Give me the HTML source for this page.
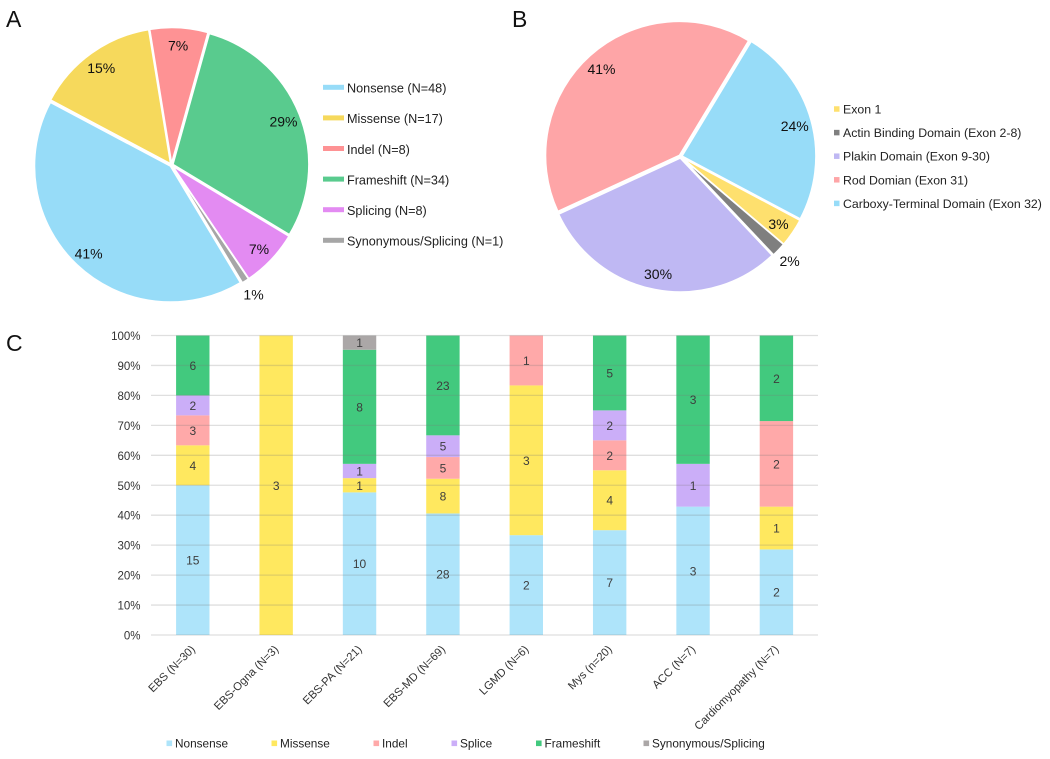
<!DOCTYPE html>
<html lang="en">
<head>
<meta charset="utf-8">
<title>Mutation distribution charts</title>
<style>
html,body{margin:0;padding:0;background:#fff;}
svg{display:block;font-family:"Liberation Sans",sans-serif;}
</style>
</head>
<body>
<svg id="fig" xmlns="http://www.w3.org/2000/svg" width="1050" height="759" viewBox="0 0 1050 759">
  <text x="6" y="27" font-size="23" fill="#111">A</text>
  <text x="512" y="27" font-size="23" fill="#111">B</text>
  <text x="6" y="351" font-size="23" fill="#111">C</text>
  <g id="pieA"></g>
  <g id="legendA"></g>
  <g id="pieB"></g>
  <g id="legendB"></g>
  <g id="barChart"></g>
  <g id="legendC"></g>
</svg>
<script>
// Panel A data
const pieALabels = ["Nonsense (N=48)", "Missense (N=17)", "Indel (N=8)", "Frameshift (N=34)", "Splicing (N=8)", "Synonymous/Splicing (N=1)"];
const pieAValues = [48, 17, 8, 34, 8, 1];
const pieAPercents = ["41%", "15%", "7%", "29%", "7%", "1%"];
const pieAColors = ["#97dcf8", "#f6d95c", "#fe9294", "#59cb8e", "#e38bf2", "#a6a6a6"];

// Panel B data
const pieBLabels = ["Exon 1", "Actin Binding Domain (Exon 2-8)", "Plakin Domain (Exon 9-30)", "Rod Domian (Exon 31)", "Carboxy-Terminal Domain (Exon 32)"];
const pieBValues = [4, 2, 35, 47, 28];
const pieBPercents = ["3%", "2%", "30%", "41%", "24%"];
const pieBColors = ["#fee06e", "#7f7f7f", "#bfb8f3", "#fea5a7", "#97dcf8"];

// Panel C data
const barCategories = ["EBS (N=30)", "EBS-Ogna (N=3)", "EBS-PA (N=21)", "EBS-MD (N=69)", "LGMD (N=6)", "Mys (n=20)", "ACC (N=7)", "Cardiomyopathy (N=7)"];
const barSeriesNames = ["Nonsense", "Missense", "Indel", "Splice", "Frameshift", "Synonymous/Splicing"];
const nonsenseValues = [15, 0, 10, 28, 2, 7, 3, 2];
const missenseValues = [4, 3, 1, 8, 3, 4, 0, 1];
const indelValues = [3, 0, 0, 5, 1, 2, 0, 2];
const spliceValues = [2, 0, 1, 5, 0, 2, 1, 0];
const frameshiftValues = [6, 0, 8, 23, 0, 5, 3, 2];
const synonymousValues = [0, 0, 1, 0, 0, 0, 0, 0];
const barColors = ["#aee4fa", "#ffe85f", "#ffa9a9", "#cbaef8", "#42c97e", "#aba7a7"];
const yTicks = [0, 10, 20, 30, 40, 50, 60, 70, 80, 90, 100];

const NS = "http://www.w3.org/2000/svg";
function make(tag, parent) {
  const el = document.createElementNS(NS, tag);
  parent.appendChild(el);
  return el;
}
function slug(s) {
  return s.toLowerCase().replace(/[^a-z0-9]+/g, "-").replace(/^-|-$/g, "");
}
function polar(cx, cy, r, deg) {
  const a = deg * Math.PI / 180;
  return [cx + r * Math.sin(a), cy - r * Math.cos(a)];
}

function drawPie(root, values, percents, colors, names, cx, cy, r, startDeg) {
  const total = values.reduce((a, b) => a + b, 0);
  const explode = 1.5;
  let angle = startDeg;
  values.forEach((v, i) => {
    const sweep = v / total * 360;
    const c = polar(cx, cy, explode, angle + sweep / 2);
    const p0 = polar(c[0], c[1], r, angle);
    const p1 = polar(c[0], c[1], r, angle + sweep);
    const path = make("path", root);
    
    
    path.setAttribute("d", "M" + c[0] + " " + c[1] + "L" + p0[0] + " " + p0[1] + "A" + r + " " + r + " 0 " + (sweep > 180 ? 1 : 0) + " 1 " + p1[0] + " " + p1[1] + "Z");
    path.setAttribute("fill", colors[i]);
    path.setAttribute("stroke", "#fff");
    path.setAttribute("stroke-width", "1.6");
    angle += sweep;
  });
  angle = startDeg;
  values.forEach((v, i) => {
    const sweep = v / total * 360;
    const labelR = sweep < 8 ? r + 16.5 : r - 15.5;
    const p = polar(cx, cy, labelR, angle + sweep / 2);
    const t = make("text", root);
    
    
    t.setAttribute("x", p[0]);
    t.setAttribute("y", p[1] + 6);
    t.setAttribute("text-anchor", "middle");
    t.setAttribute("font-size", "14");
    t.setAttribute("fill", "#111");
    t.textContent = percents[i];
    angle += sweep;
  });
}

function legendRow(root, name, color, sx, sy, sw, sh, tx, ty, size) {
  const rect = make("rect", root);
  
  
  rect.setAttribute("x", sx);
  rect.setAttribute("y", sy);
  rect.setAttribute("width", sw);
  rect.setAttribute("height", sh);
  rect.setAttribute("fill", color);
  const t = make("text", root);
  
  
  t.setAttribute("x", tx);
  t.setAttribute("y", ty);
  t.setAttribute("font-size", size);
  t.setAttribute("fill", "#222");
  t.textContent = name;
}

drawPie(document.getElementById("pieA"), pieAValues, pieAPercents, pieAColors, pieALabels, 171.5, 165, 136, 149);
drawPie(document.getElementById("pieB"), pieBValues, pieBPercents, pieBColors, pieBLabels, 680.5, 156.5, 134, 118);

pieALabels.forEach((name, i) => {
  const y = 87.3 + i * 30.6;
  legendRow(document.getElementById("legendA"), name, pieAColors[i], 323, y - 2.5, 21, 5, 347, y + 5.3, 12.65);
});
pieBLabels.forEach((name, i) => {
  const y = 109 + i * 23.6;
  legendRow(document.getElementById("legendB"), name, pieBColors[i], 834, y - 2.75, 5.5, 5.5, 843, y + 4.5, 12.3);
});

// Stacked bar chart axes
const plotLeft = 151, plotRight = 818, plotTop = 335.5, plotBottom = 635;
const barWidth = 33.4;
const bandWidth = (plotRight - plotLeft) / barCategories.length;
function xCenter(i) { return plotLeft + bandWidth * (i + 0.5) + 0.1; }
function yScale(pct) { return plotBottom - (plotBottom - plotTop) * pct / 100; }

const chart = document.getElementById("barChart");
const seriesValues = [nonsenseValues, missenseValues, indelValues, spliceValues, frameshiftValues, synonymousValues];

barCategories.forEach((cat, i) => {
  const total = seriesValues.reduce((sum, s) => sum + s[i], 0);
  let cum = 0;
  seriesValues.forEach((s, k) => {
    const v = s[i];
    if (!v) return;
    const y0 = yScale(cum / total * 100);
    const y1 = yScale((cum + v) / total * 100);
    const rect = make("rect", chart);
    
    
    rect.setAttribute("x", xCenter(i) - barWidth / 2);
    rect.setAttribute("y", y1);
    rect.setAttribute("width", barWidth);
    rect.setAttribute("height", y0 - y1);
    rect.setAttribute("fill", barColors[k]);
    cum += v;
  });
});

yTicks.forEach((tick) => {
  const y = yScale(tick);
  const line = make("line", chart);
  
  
  line.setAttribute("x1", plotLeft);
  line.setAttribute("x2", plotRight);
  line.setAttribute("y1", y);
  line.setAttribute("y2", y);
  line.setAttribute("stroke", "#7a7a7a");
  line.setAttribute("stroke-opacity", "0.24");
  line.setAttribute("stroke-width", "1.3");
  const t = make("text", chart);
  
  
  t.setAttribute("x", 140.5);
  t.setAttribute("y", y + 4.5);
  t.setAttribute("text-anchor", "end");
  t.setAttribute("font-size", "11.5");
  t.setAttribute("fill", "#333");
  t.textContent = tick + "%";
});

barCategories.forEach((cat, i) => {
  const total = seriesValues.reduce((sum, s) => sum + s[i], 0);
  let cum = 0;
  seriesValues.forEach((s, k) => {
    const v = s[i];
    if (!v) return;
    const yMid = yScale((cum + v / 2) / total * 100);
    const t = make("text", chart);
    
    
    t.setAttribute("x", xCenter(i));
    t.setAttribute("y", yMid + 4.5);
    t.setAttribute("text-anchor", "middle");
    t.setAttribute("font-size", "12");
    t.setAttribute("fill", "#3d3d3d");
    t.textContent = v;
    cum += v;
  });
  const ax = xCenter(i) + 3;
  const ay = 650;
  const label = make("text", chart);
  
  
  label.setAttribute("x", ax);
  label.setAttribute("y", ay);
  label.setAttribute("text-anchor", "end");
  label.setAttribute("font-size", "11.3");
  label.setAttribute("fill", "#333");
  label.setAttribute("transform", "rotate(-45 " + ax + " " + ay + ")");
  label.textContent = cat;
});

// Stacked bar legend
const legendC = document.getElementById("legendC");
const legendGaps = [0, 105, 207, 285, 369.5, 477];
barSeriesNames.forEach((name, i) => {
  const sx = 166.5 + legendGaps[i];
  legendRow(legendC, name, barColors[i], sx, 740.5, 5.6, 5.6, sx + 8.5, 747.5, 11.8);
});
</script>
</body>
</html>
